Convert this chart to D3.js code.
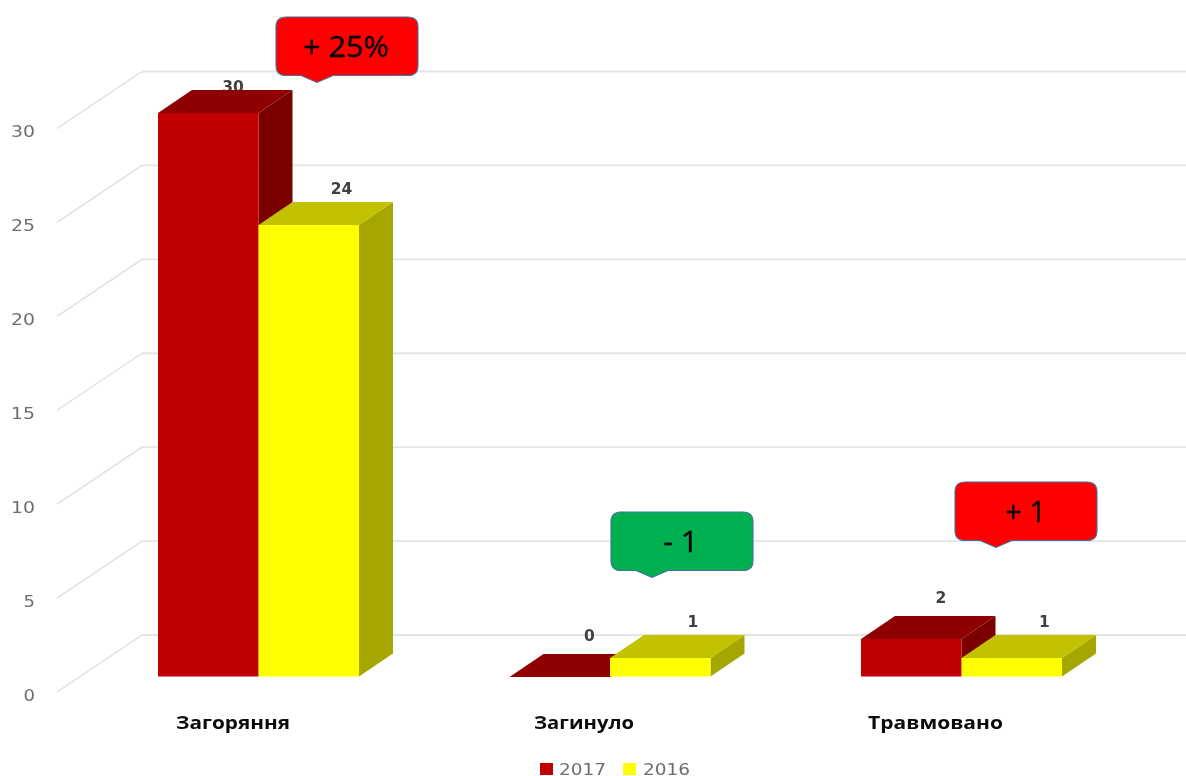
<!DOCTYPE html>
<html><head><meta charset="utf-8">
<script src="https://cdnjs.cloudflare.com/ajax/libs/d3/7.8.5/d3.min.js"></script>
<style>html,body{margin:0;padding:0;background:#fff;overflow:hidden}svg{display:block}</style>
</head><body><svg id="c" width="1186" height="776"></svg>
<script>
const categories = ["Загоряння", "Загинуло", "Травмовано"];
const seriesNames = ["2017", "2016"];
const values2017 = [30, 0, 2];
const values2016 = [24, 1, 1];
const yTicks = [0, 5, 10, 15, 20, 25, 30];
const calloutTexts = ["+ 25%", "- 1", "+ 1"];
const calloutKinds = ["up", "down", "up"];

const W = 1186, H = 776;
const svg = d3.select("#c");
const root = svg.append("g").style("filter", "blur(0.5px)");

const colors = {
  "2017": {front: "#c00000", top: "#8f0000", side: "#7a0000"},
  "2016": {front: "#ffff00", top: "#c2c200", side: "#a6a600"}
};
const calloutFill = {up: "#ff0000", down: "#00b050"};

// scales: front plane of bars and back wall of the 3D chart
const yBar = d3.scaleLinear().domain([0, 30]).range([676.5, 112.5]);
const yBack = d3.scaleLinear().domain([0, 30]).range([635, 71.5]);
const yFloor = d3.scaleLinear().domain([0, 30]).range([692, 128.5]);
const xBand = d3.scaleBand().domain(categories).range([158, 1212.5]);
const xSeries = d3.scaleBand().domain(seriesNames).range([0, 201]);
const depthX = 34, depthY = 23;
const wallLeft = 142, floorLeft = 57;

// grid
const grid = root.append("g");
grid.selectAll("line.h").data(yTicks).join("line").attr("class", "h")
  .attr("x1", wallLeft).attr("x2", W)
  .attr("y1", d => yBack(d)).attr("y2", d => yBack(d))
  .attr("stroke", "#e4e4e4").attr("stroke-width", 1.8);
grid.selectAll("line.s").data(yTicks).join("line").attr("class", "s")
  .attr("x1", floorLeft).attr("x2", wallLeft)
  .attr("y1", d => yFloor(d)).attr("y2", d => yBack(d))
  .attr("stroke", "#e0e0e0").attr("stroke-width", 1.5);

// y tick labels
root.append("g").selectAll("text").data(yTicks).join("text")
  .attr("x", 35).attr("y", d => yFloor(d) + 8.5)
  .attr("text-anchor", "end")
  .attr("font-family", "'DejaVu Sans'").attr("font-size", 15.5)
  .attr("fill", "#6e6e6e")
  .attr("textLength", d => d >= 10 ? 24 : 11.5).attr("lengthAdjust", "spacingAndGlyphs")
  .text(d => d);

const bars = [];
categories.forEach((c, i) => {
  bars.push({c, s: "2017", v: values2017[i]});
  bars.push({c, s: "2016", v: values2016[i]});
});

// data labels (under the bars: the top face of the tallest bar clips its label)
root.append("g").selectAll("text").data(bars).join("text")
  .attr("x", d => xBand(d.c) + xSeries(d.s) + (d.s === "2017" ? (d.v === 30 ? 75 : 80) : 83))
  .attr("y", d => Math.max(91.5, yBar(d.v) - (d.s === "2017" ? 36 : 31)))
  .attr("text-anchor", "middle")
  .attr("font-family", "'DejaVu Sans'").attr("font-weight", "bold").attr("font-size", 15.5)
  .attr("fill", "#404040")
  .text(d => d.v);

// bars
root.append("g").selectAll("g").data(bars).join("g").each(function(d) {
  const g = d3.select(this);
  const x0 = xBand(d.c) + xSeries(d.s);
  const x1 = x0 + xSeries.bandwidth();
  const yT = Math.round(yBar(d.v)), yB = yBar(0);
  const col = colors[d.s];
  g.append("path").attr("fill", col.side)
    .attr("d", d3.line()([[x1, yT], [x1 + depthX, yT - depthY], [x1 + depthX, yB - depthY], [x1, yB]]));
  g.append("path").attr("fill", col.top)
    .attr("d", d3.line()([[x0, yT], [x0 + depthX, yT - depthY], [x1 + depthX, yT - depthY], [x1, yT]]));
  g.append("rect").attr("x", x0).attr("y", yT).attr("width", x1 - x0).attr("height", yB - yT).attr("fill", col.front);
});

// category labels
const catX = [176, 534, 868], catW = [114, 100, 135];
root.append("g").selectAll("text").data(categories).join("text")
  .attr("x", (d, i) => catX[i]).attr("y", 729)
  .attr("font-family", "'Open Sans'").attr("font-weight", "bold").attr("font-size", 18)
  .attr("fill", "#0c0c0c")
  .attr("textLength", (d, i) => catW[i]).attr("lengthAdjust", "spacingAndGlyphs")
  .text(d => d);

// callouts
const boxX = [276, 611, 955], boxY = [17, 512, 482], tipX = [317, 652, 996];
const textX = [303, 663, 1005], textW = [86, 35, 41];
const bw = 142, bh = 58.5, r = 10;
root.append("g").selectAll("g").data(calloutTexts).join("g").each(function(t, i) {
  const g = d3.select(this);
  const x = boxX[i], y = boxY[i], tx = tipX[i], b = y + bh;
  const p = d3.path();
  p.moveTo(x + r, y);
  p.lineTo(x + bw - r, y); p.quadraticCurveTo(x + bw, y, x + bw, y + r);
  p.lineTo(x + bw, b - r); p.quadraticCurveTo(x + bw, b, x + bw - r, b);
  p.lineTo(tx + 16, b); p.lineTo(tx, b + 7); p.lineTo(tx - 16, b);
  p.lineTo(x + r, b); p.quadraticCurveTo(x, b, x, b - r);
  p.lineTo(x, y + r); p.quadraticCurveTo(x, y, x + r, y); p.closePath();
  g.append("path").attr("d", p.toString()).attr("fill", calloutFill[calloutKinds[i]])
    .attr("stroke", "#41719c").attr("stroke-width", 1.1);
  g.append("text").attr("x", textX[i]).attr("y", y + 40)
    .attr("font-family", "'Open Sans'").attr("font-size", 29)
    .attr("textLength", textW[i]).attr("lengthAdjust", "spacingAndGlyphs")
    .attr("fill", "#000").attr("stroke", "#000").attr("stroke-width", 0.35).text(t);
});

// legend
const legX = [540, 623], legW = [13, 13], legTextX = [559, 643];
const lg = root.append("g").selectAll("g").data(seriesNames).join("g");
lg.append("rect").attr("x", (d, i) => legX[i]).attr("y", 763).attr("width", (d, i) => legW[i]).attr("height", 12)
  .attr("fill", d => colors[d].front);
lg.append("text").attr("x", (d, i) => legTextX[i]).attr("y", 775)
  .attr("font-family", "'DejaVu Sans'").attr("font-size", 15.5).attr("fill", "#6e6e6e")
  .attr("textLength", 47).attr("lengthAdjust", "spacingAndGlyphs").text(d => d);
</script></body></html>
